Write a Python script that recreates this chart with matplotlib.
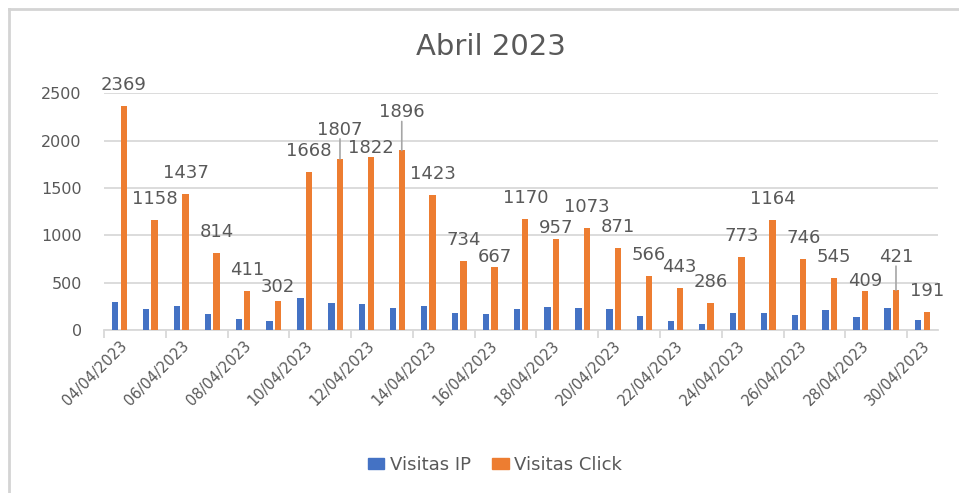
import matplotlib
matplotlib.use("Agg")
import matplotlib.pyplot as plt
from matplotlib.lines import Line2D
from matplotlib.patches import Patch
import numpy as np

dates = ["04/04/2023", "05/04/2023", "06/04/2023", "07/04/2023", "08/04/2023",
         "09/04/2023", "10/04/2023", "11/04/2023", "12/04/2023", "13/04/2023",
         "14/04/2023", "15/04/2023", "16/04/2023", "17/04/2023", "18/04/2023",
         "19/04/2023", "20/04/2023", "21/04/2023", "22/04/2023", "23/04/2023",
         "24/04/2023", "25/04/2023", "26/04/2023", "27/04/2023", "28/04/2023",
         "29/04/2023", "30/04/2023"]
visitas_ip = [299, 218, 253, 172, 116, 92, 334, 289, 278, 229, 253, 183, 172, 218,
              243, 229, 218, 151, 92, 60, 183, 183, 162, 208, 137, 229, 102]
visitas_click = [2369, 1158, 1437, 814, 411, 302, 1668, 1807, 1822, 1896, 1423, 734,
                 667, 1170, 957, 1073, 871, 566, 443, 286, 773, 1164, 746, 545, 409,
                 421, 191]
series_names = ["Visitas IP", "Visitas Click"]
title = "Abril 2023"

BLUE = "#4472C4"
ORANGE = "#ED7D31"
TXT = "#595959"
GRID = "#D9D9D9"
FONT = "DejaVu Sans"

# label vertical offsets (pixels above bar top) for the few labels Excel moved
default_off = 21
special_off = {7: 29, 8: 9, 9: 38, 14: 11, 12: 10, 5: 14, 24: 10, 25: 33}
leader = {7, 9, 25}

W, H = 959, 493
fig = plt.figure(figsize=(W / 100, H / 100), dpi=100)
fig.patch.set_facecolor("white")

# outer chart border (left & top visible)
fig.add_artist(Line2D([9 / W, 9 / W], [0, 1 - 9 / H], transform=fig.transFigure,
                      color="#D4D4D4", lw=2))
fig.add_artist(Line2D([9 / W, 1], [1 - 9 / H, 1 - 9 / H], transform=fig.transFigure,
                      color="#D4D4D4", lw=2))

ax = fig.add_axes([104 / W, 1 - 330 / H, 834 / W, (330 - 93.3) / H])
x = np.arange(len(dates))
bw = 0.205
ax.bar(x - 0.14, visitas_ip, width=bw, color=BLUE, label=series_names[0], zorder=3)
ax.bar(x + 0.14, visitas_click, width=bw, color=ORANGE, label=series_names[1], zorder=3)

ax.set_xlim(-0.5, len(dates) - 0.5)
ax.set_ylim(0, 2500)
ax.set_yticks(np.arange(0, 2501, 500))
ax.yaxis.grid(True, color=GRID, lw=1.3, zorder=0)
ax.set_axisbelow(True)
for s in ["top", "right", "left"]:
    ax.spines[s].set_visible(False)
ax.spines["bottom"].set_color(GRID)
ax.spines["bottom"].set_linewidth(1.3)
ax.tick_params(axis="y", length=0, labelsize=11.5, labelcolor=TXT, pad=16)

# x ticks: marks at every second category boundary, labels at every second category
ax.set_xticks(x[::2])
ax.set_xticklabels([dates[i] for i in x[::2]], rotation=45, ha="right",
                   rotation_mode="anchor", fontsize=10.5, color=TXT)
ax.tick_params(axis="x", length=0, pad=6)
ax.set_xticks(np.arange(-0.5, len(dates), 2), minor=True)
ax.tick_params(axis="x", which="minor", length=6, color=GRID, width=1.3)

for lab in ax.get_xticklabels() + ax.get_yticklabels():
    lab.set_family(FONT)

# data labels
pt_per_px = 72 / 100
for i, v in enumerate(visitas_click):
    off = special_off.get(i, default_off)
    ax.annotate(str(v), xy=(i + 0.14, v), xytext=(0, off * pt_per_px),
                textcoords="offset points", ha="center", va="center",
                fontsize=13, color=TXT, family=FONT, zorder=4)
    if i in leader:
        ax.annotate("", xy=(i + 0.14, v), xytext=(0, (off - 9) * pt_per_px),
                    textcoords="offset points",
                    arrowprops=dict(arrowstyle="-", color="#A6A6A6", lw=1.2,
                                    shrinkA=0, shrinkB=0))

fig.text(491 / W, 1 - 47 / H, title, ha="center", va="center", fontsize=21,
         color=TXT, family=FONT)

handles = [Patch(color=BLUE, label=series_names[0]),
           Patch(color=ORANGE, label=series_names[1])]
fig.legend(handles=handles, loc="center", bbox_to_anchor=(495 / W, 1 - 465 / H),
           ncol=2, frameon=False, prop={"family": FONT, "size": 13},
           labelcolor=TXT, handlelength=0.9, handleheight=0.55, handletextpad=0.3,
           columnspacing=1.2)

fig.savefig("out.png", dpi=100, facecolor="white")
